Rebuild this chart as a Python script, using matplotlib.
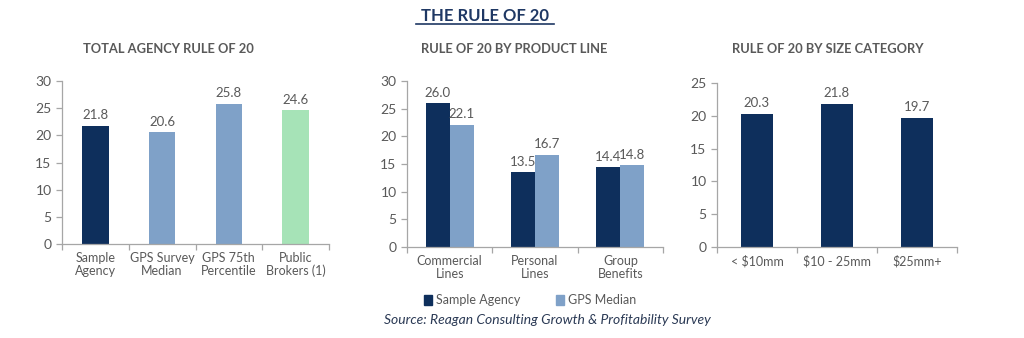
import numpy as np
import matplotlib.pyplot as plt
from matplotlib.patches import Patch

plt.rcParams['font.family'] = ['Lato', 'DejaVu Sans']

NAVY = '#0e2f5c'
LIGHT = '#7fa1c8'
GREEN = '#a6e3b7'
GREY = '#595959'
AXIS = '#a6a6a6'

# total agency
total_cats = ['Sample\nAgency', 'GPS Survey\nMedian', 'GPS 75th\nPercentile', 'Public\nBrokers (1)']
total_vals = [21.8, 20.6, 25.8, 24.6]
total_colors = [NAVY, LIGHT, LIGHT, GREEN]

# by product line
line_cats = ['Commercial\nLines', 'Personal\nLines', 'Group\nBenefits']
line_sample = [26.0, 13.5, 14.4]
line_gps = [22.1, 16.7, 14.8]

# by size category
size_cats = ['< $10mm', '$10 - 25mm', '$25mm+']
size_vals = [20.3, 21.8, 19.7]

W, H = 1024, 338
fig = plt.figure(figsize=(W / 100, H / 100), dpi=100)


def px_axes(x0, x1, ytop, ybot):
    return fig.add_axes([x0 / W, 1 - ybot / H, (x1 - x0) / W, (ybot - ytop) / H])


def style(ax, n, ymax):
    ax.set_xlim(-0.5, n - 0.5)
    ax.set_ylim(0, ymax)
    ax.set_yticks(np.arange(0, ymax + 1, 5))
    for s in ['top', 'right']:
        ax.spines[s].set_visible(False)
    for s in ['left', 'bottom']:
        ax.spines[s].set_color(AXIS)
        ax.spines[s].set_linewidth(0.9)
    ax.tick_params(axis='y', colors=AXIS, labelcolor=GREY, labelsize=10, length=4, width=0.9)
    ax.tick_params(axis='x', which='major', length=0, labelcolor=GREY, labelsize=9, pad=6)
    ax.set_xticks(np.arange(-0.5, n, 1.0), minor=True)
    ax.tick_params(axis='x', which='minor', length=4, width=0.9, color=AXIS)


def label(ax, bars, vals):
    for b, v in zip(bars, vals):
        ax.text(b.get_x() + b.get_width() / 2, v + 0.8, f'{v:.1f}',
                ha='center', va='bottom', fontsize=9.5, color=GREY)


ax1 = px_axes(62, 329, 81, 244)
x = np.arange(len(total_cats))
bars = ax1.bar(x, total_vals, width=0.4, color=total_colors)
label(ax1, bars, total_vals)
ax1.set_xticks(x, total_cats, linespacing=1.05)
style(ax1, len(total_cats), 30)

ax2 = px_axes(407, 663, 81, 247)
x = np.arange(len(line_cats))
w = 0.28
b1 = ax2.bar(x - w / 2, line_sample, width=w, color=NAVY)
b2 = ax2.bar(x + w / 2, line_gps, width=w, color=LIGHT)
label(ax2, b1, line_sample)
label(ax2, b2, line_gps)
ax2.set_xticks(x, line_cats, linespacing=1.05)
style(ax2, len(line_cats), 30)

ax3 = px_axes(717, 957, 83, 247)
x = np.arange(len(size_cats))
bars = ax3.bar(x, size_vals, width=0.4, color=NAVY)
label(ax3, bars, size_vals)
ax3.set_xticks(x, size_cats)
style(ax3, len(size_cats), 25)

for ax, t, cx in [(ax1, 'TOTAL AGENCY RULE OF 20', 168),
                  (ax2, 'RULE OF 20 BY PRODUCT LINE', 514),
                  (ax3, 'RULE OF 20 BY SIZE CATEGORY', 828)]:
    fig.text(cx / W, 1 - 49 / H, t, ha='center', va='center',
             fontsize=9.3, fontweight='bold', color=GREY)

fig.text(485 / W, 1 - 16 / H, 'THE RULE OF 20', ha='center', va='center',
         fontsize=12, fontweight='bold', color='#1f3864')
fig.add_artist(plt.Line2D([416 / W, 554 / W], [1 - 23.5 / H, 1 - 23.5 / H], color='#1f3864', lw=1.2))

fig.legend(handles=[Patch(color=NAVY, label='Sample Agency'), Patch(color=LIGHT, label='GPS Median')],
           loc='center', bbox_to_anchor=(530 / W, 1 - 300 / H), ncol=2, frameon=False,
           fontsize=9, handlelength=0.7, handleheight=0.9, handletextpad=0.3, columnspacing=2.8,
           labelcolor=GREY)

fig.text(547 / W, 1 - 320 / H, 'Source: Reagan Consulting Growth & Profitability Survey',
         ha='center', va='center', fontsize=10, style='italic', color='#2b3a55')

fig.savefig('out.png', dpi=100)
